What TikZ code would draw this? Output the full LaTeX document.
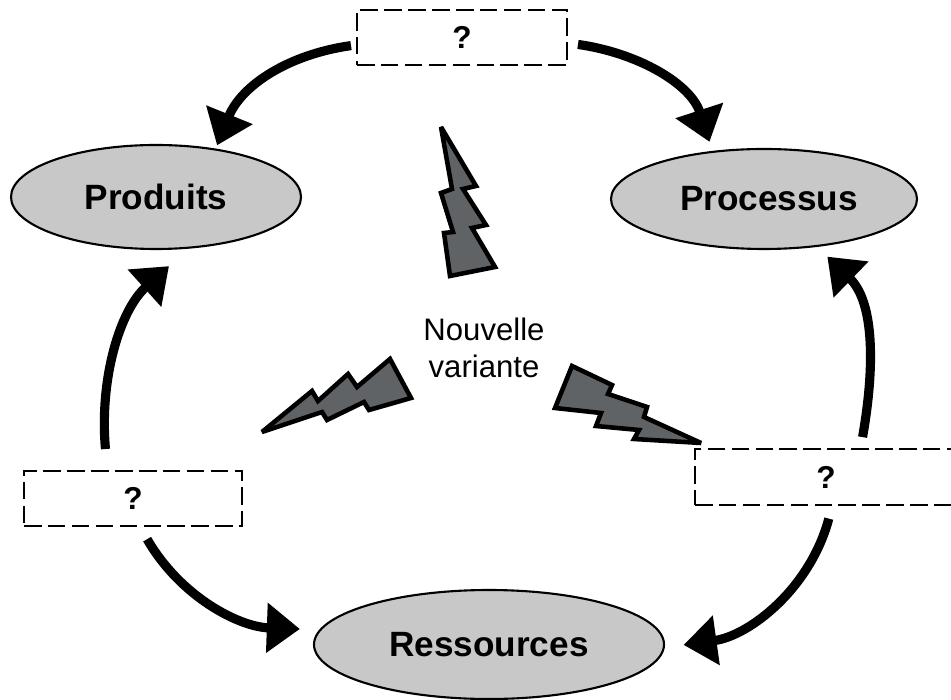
\documentclass[tikz,border=0pt]{standalone}
\usepackage{fontspec}
\setmainfont{Liberation Sans}
\usepackage{xcolor}
\usetikzlibrary{arrows.meta}
\usetikzlibrary{shapes.geometric}
\definecolor{ovalgray}{RGB}{200,200,200}
\definecolor{boltgray}{RGB}{96,99,102}
\tikzset{
	oval/.style={ellipse,draw=black,line width=0.6pt,fill=ovalgray,inner sep=0pt,font=\fontsize{10}{12}\selectfont\bfseries},
	question/.style={rectangle,draw=black,dash pattern=on 5pt off 1.8pt,line width=0.6pt,fill=white,inner sep=0pt,font=\fontsize{9}{11}\selectfont\bfseries},
	flux/.style={line width=2.6pt,-{Triangle[length=9.4pt,width=13.7pt]}},
	bolt/.style={draw=black,line width=1.3pt,fill=boltgray,line join=miter,miter limit=4}
}
\begin{document}
\begin{tikzpicture}[transform shape,scale=1]
	\useasboundingbox (0,0) rectangle (9.51,6.99);
	\node[oval,minimum width=2.9cm,minimum height=1.04cm] (produits) at (1.56,5.02) {Produits};
	\node[oval,minimum width=3.06cm,minimum height=1.0cm] (processus) at (7.64,5.00) {\hspace*{0.1cm}Processus};
	\node[oval,minimum width=3.5cm,minimum height=1.09cm] (ressources) at (4.89,0.545) {Ressources};
	\node[question,minimum width=2.1cm,minimum height=0.55cm] (qtop) at (4.62,6.615) {?};
	\node[question,minimum width=2.18cm,minimum height=0.55cm] (qleft) at (1.33,2.005) {?};
	\node[question,minimum width=2.62cm,minimum height=0.56cm] (qright) at (8.26,2.22) {?};
	\node[align=center,font=\fontsize{8.85}{10.5}\selectfont] (variante) at (4.84,3.51) {Nouvelle\\variante};
	\draw[flux,shorten <=0.05cm,shorten >=0.035cm] (qtop.184) to[out=188,in=68] (produits.39);
	\draw[flux,shorten <=0.10cm,shorten >=0.095cm] (qtop.-3) to[out=-8,in=108] (processus.137);
	\draw[flux,shorten <=0.21cm,shorten >=0.26cm] (qleft.132) to[out=95,in=-138] (produits.-58);
	\draw[flux,shorten <=0.14cm,shorten >=0.195cm] (qleft.-76) to[out=-60,in=178] (ressources.175);
	\draw[flux,shorten <=0.11cm,shorten >=0.14cm] (qright.40) to[out=80,in=-44] (processus.-42);
	\draw[flux,shorten <=0.13cm,shorten >=0.19cm] (qright.-78) to[out=-105,in=8] (ressources.-1);
	\draw[bolt] (4.41,5.72)--(4.76,5.13)--(4.63,5.10)--(4.86,4.74)--(4.72,4.71)--(4.95,4.32)--(4.50,4.23)--(4.44,4.66)--(4.53,4.67)--(4.41,5.06)--(4.52,5.10)--cycle;
	\draw[bolt] (2.62,2.67)--(3.12,3.08)--(3.18,2.98)--(3.48,3.25)--(3.57,3.12)--(3.90,3.40)--(4.11,3.01)--(3.69,2.89)--(3.64,2.97)--(3.27,2.79)--(3.22,2.87)--cycle;
	\draw[bolt] (5.72,3.33)--(6.12,3.14)--(6.08,3.05)--(6.47,2.92)--(6.44,2.82)--(7.01,2.56)--(6.34,2.60)--(6.39,2.69)--(5.96,2.73)--(6.01,2.86)--(5.55,2.91)--cycle;
\end{tikzpicture}
\end{document}
